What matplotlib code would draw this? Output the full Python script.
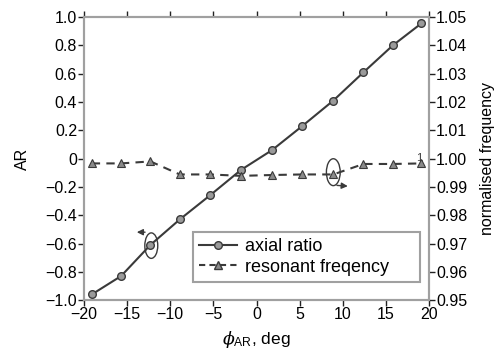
import matplotlib
matplotlib.use("Agg")
import matplotlib.pyplot as plt
from matplotlib.lines import Line2D
from matplotlib.patches import Ellipse
from matplotlib.ticker import FuncFormatter

plt.rcParams["font.family"] = ["Liberation Sans", "DejaVu Sans"]
plt.rcParams["mathtext.fontset"] = "custom"
plt.rcParams["mathtext.rm"] = "Liberation Sans"
plt.rcParams["mathtext.it"] = "DejaVu Serif:italic"

# data
phi = [-19.1, -15.7, -12.3, -8.9, -5.4, -1.8, 1.8, 5.3, 8.9, 12.4, 15.8, 19.1]
axial_ratio = [-0.96, -0.83, -0.61, -0.43, -0.26, -0.08, 0.06, 0.23, 0.41, 0.61, 0.80, 0.955]
norm_freq = [0.9983, 0.9983, 0.9990, 0.9944, 0.9944, 0.9939, 0.9942, 0.9944, 0.9944, 0.9981, 0.9981, 0.9983]

x_ticks = [-20, -15, -10, -5, 0, 5, 10, 15, 20]
ar_ticks = [-1.0, -0.8, -0.6, -0.4, -0.2, 0, 0.2, 0.4, 0.6, 0.8, 1.0]
f_ticks = [0.95, 0.96, 0.97, 0.98, 0.99, 1.00, 1.01, 1.02, 1.03, 1.04, 1.05]
legend_labels = ["axial ratio", "resonant freqency"]

line_col = "#3a3a3a"
spine_col = "#a0a0a0"

fig = plt.figure(figsize=(5.03, 3.56), dpi=100)
ax = fig.add_axes([0.167, 0.157, 0.686, 0.795])
ax2 = ax.twinx()

ax.plot(phi, axial_ratio, "-o", color=line_col, lw=1.5,
        ms=5.5, mfc="#9a9a9a", mec=line_col, mew=1.0, zorder=3)
ax2.plot(phi, norm_freq, "--^", color=line_col, lw=1.5, dashes=(4, 3),
         ms=5.5, mfc="#8a8a8a", mec=line_col, mew=0.8, zorder=3)

ax.set_xlim(-20, 20)
ax.set_ylim(-1.0, 1.0)
ax2.set_ylim(0.95, 1.05)

ax.set_xticks(x_ticks)
ax.set_yticks(ar_ticks)
ax2.set_yticks(f_ticks)
ax.yaxis.set_major_formatter(FuncFormatter(
    lambda v, p: "0" if abs(v) < 1e-9 else f"{v:.1f}".replace("-", "\u2212")))
ax2.yaxis.set_major_formatter(FuncFormatter(lambda v, p: f"{v:.2f}"))
ax.xaxis.set_major_formatter(FuncFormatter(
    lambda v, p: f"{int(round(v))}".replace("-", "\u2212")))

for a in (ax, ax2):
    for s in a.spines.values():
        s.set_color(spine_col)
        s.set_linewidth(1.5)
    a.tick_params(labelsize=11.5, length=4, width=1, color="#222222", pad=1)

ax.tick_params(axis="x", top=True)
ax.set_ylabel("AR", fontsize=11.5, labelpad=11)
ax2.set_ylabel("normalised frequency", fontsize=11.5, labelpad=9)
ax.set_xlabel(r"$\phi_{\rm AR}$, deg", fontsize=12.5, labelpad=5)

# ellipse + arrow markers pointing at the owning axis
ax.add_patch(Ellipse((-12.2, -0.615), 1.5, 0.18, fill=False,
                     ec=line_col, lw=1.0, zorder=4))
ax.annotate("", xy=(-14.2, -0.52), xytext=(-12.6, -0.52),
            arrowprops=dict(arrowstyle="-|>", color=line_col, lw=1.0,
                            mutation_scale=9))
ax2.add_patch(Ellipse((8.9, 0.9952), 1.6, 0.0095, fill=False,
                      ec=line_col, lw=1.0, zorder=4))
ax2.annotate("", xy=(10.9, 0.9902), xytext=(9.0, 0.9906),
             arrowprops=dict(arrowstyle="-|>", color=line_col, lw=1.0,
                             mutation_scale=9))
ax2.text(18.9, 1.0001, "1", fontsize=8, color=line_col, ha="center", va="center")

handles = [
    Line2D([], [], color=line_col, lw=1.5, marker="o", ms=5.5,
           mfc="#9a9a9a", mec=line_col),
    Line2D([], [], color=line_col, lw=1.5, ls="--", dashes=(3, 2), marker="^",
           ms=5.5, mfc="#8a8a8a", mec=line_col),
]
# the original box leaves extra room right of the text
leg = ax2.legend(handles, [s + "     " for s in legend_labels],
                 loc="lower right", bbox_to_anchor=(0.99, 0.045),
                 fontsize=13, fancybox=False, framealpha=1,
                 edgecolor=spine_col, handlelength=2.1, borderpad=0.35,
                 labelspacing=0.2, handletextpad=0.45, borderaxespad=0.3)
leg.get_frame().set_linewidth(1.5)

fig.savefig("out.png", dpi=100)
